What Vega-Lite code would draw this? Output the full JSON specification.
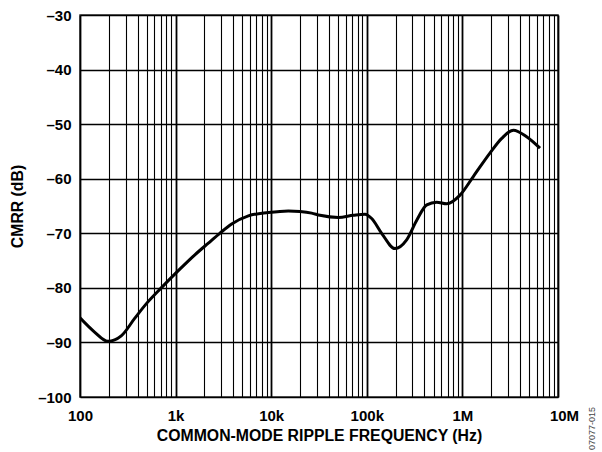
{
  "$schema": "https://vega.github.io/schema/vega-lite/v6.json",
  "width": 478,
  "height": 382,
  "autosize": {"type": "none"},
  "padding": {"left": 80, "top": 15, "right": 44, "bottom": 55},
  "background": "white",
  "title": {
    "text": "07077-015",
    "orient": "right",
    "frame": "group",
    "anchor": "end",
    "angle": 270,
    "align": "right",
    "baseline": "middle",
    "dx": -10,
    "offset": 4,
    "font": "Liberation Sans",
    "fontSize": 9,
    "fontWeight": "normal",
    "color": "#444444"
  },
  "config": {
    "view": {"stroke": "#333333", "strokeWidth": 1.5},
    "axis": {
      "domain": false,
      "ticks": false,
      "grid": true,
      "gridColor": "#000000",
      "gridOpacity": 1,
      "labelFont": "Liberation Sans",
      "labelFontWeight": "bold",
      "labelFontSize": 15,
      "labelColor": "#000000",
      "titleFont": "Liberation Sans",
      "titleFontWeight": "bold",
      "titleFontSize": 15.8,
      "titleColor": "#000000"
    }
  },
  "data": {
    "values": [
      {"f": 100, "cmrr": -85.5},
      {"f": 142, "cmrr": -88.1},
      {"f": 196, "cmrr": -89.8},
      {"f": 270, "cmrr": -88.8},
      {"f": 373, "cmrr": -85.6},
      {"f": 500, "cmrr": -82.8},
      {"f": 708, "cmrr": -80.0},
      {"f": 1060, "cmrr": -76.9},
      {"f": 1600, "cmrr": -73.9},
      {"f": 2200, "cmrr": -71.8},
      {"f": 2900, "cmrr": -70.0},
      {"f": 3860, "cmrr": -68.3},
      {"f": 5770, "cmrr": -66.8},
      {"f": 9330, "cmrr": -66.2},
      {"f": 15100, "cmrr": -65.9},
      {"f": 20000, "cmrr": -66.0},
      {"f": 26500, "cmrr": -66.3},
      {"f": 32400, "cmrr": -66.7},
      {"f": 50400, "cmrr": -67.1},
      {"f": 72300, "cmrr": -66.7},
      {"f": 95700, "cmrr": -66.5},
      {"f": 112500, "cmrr": -67.3},
      {"f": 143000, "cmrr": -70.0},
      {"f": 197000, "cmrr": -72.8},
      {"f": 261000, "cmrr": -71.2},
      {"f": 333000, "cmrr": -67.6},
      {"f": 424000, "cmrr": -64.8},
      {"f": 538000, "cmrr": -64.3},
      {"f": 685000, "cmrr": -64.6},
      {"f": 944000, "cmrr": -63.0},
      {"f": 1300000, "cmrr": -59.6},
      {"f": 1940000, "cmrr": -55.3},
      {"f": 2580000, "cmrr": -52.6},
      {"f": 3410000, "cmrr": -51.1},
      {"f": 4700000, "cmrr": -52.3},
      {"f": 6480000, "cmrr": -54.4}
    ]
  },
  "mark": {"type": "line", "color": "#000000", "strokeWidth": 3, "interpolate": "monotone", "clip": true},
  "encoding": {
    "x": {
      "field": "f",
      "type": "quantitative",
      "scale": {"type": "log", "domain": [100, 10000000], "nice": false},
      "axis": {
        "title": "COMMON-MODE RIPPLE FREQUENCY (Hz)",
        "values": [100, 200, 300, 400, 500, 600, 700, 800, 900,
                   1000, 2000, 3000, 4000, 5000, 6000, 7000, 8000, 9000,
                   10000, 20000, 30000, 40000, 50000, 60000, 70000, 80000, 90000,
                   100000, 200000, 300000, 400000, 500000, 600000, 700000, 800000, 900000,
                   1000000, 2000000, 3000000, 4000000, 5000000, 6000000, 7000000, 8000000, 9000000,
                   10000000],
        "labelExpr": "datum.value == 100 ? '100' : datum.value == 1000 ? '1k' : datum.value == 10000 ? '10k' : datum.value == 100000 ? '100k' : datum.value == 1000000 ? '1M' : datum.value == 10000000 ? '10M' : ''",
        "labelOverlap": false,
        "labelFlush": false,
        "labelPadding": 11,
        "labelOffset": {"condition": {"test": "datum.value == 10000000", "value": 6}, "value": 0},
        "titlePadding": 5,
        "gridWidth": {"condition": {"test": "datum.value == 100 || datum.value == 1000 || datum.value == 10000 || datum.value == 100000 || datum.value == 1000000 || datum.value == 10000000", "value": 1.8}, "value": 1.1}
      }
    },
    "y": {
      "field": "cmrr",
      "type": "quantitative",
      "scale": {"domain": [-100, -30], "nice": false, "zero": false},
      "axis": {
        "title": "CMRR (dB)",
        "values": [-100, -90, -80, -70, -60, -50, -40, -30],
        "labelExpr": "datum.value < 0 ? '–' + format(-datum.value, 'd') : datum.label",
        "labelPadding": 9,
        "titlePadding": 12,
        "gridWidth": 1.3
      }
    }
  }
}
